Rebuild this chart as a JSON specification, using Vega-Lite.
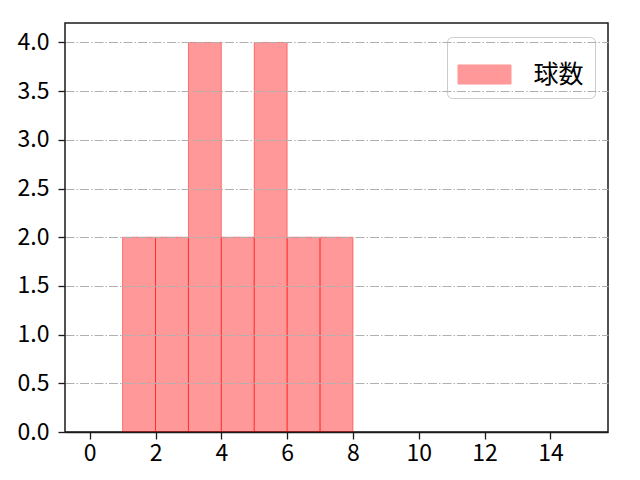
{
  "$schema": "https://vega.github.io/schema/vega-lite/v6.json",
  "autosize": {"type": "none"},
  "padding": {"left": 65, "top": 23, "right": 32, "bottom": 48},
  "width": 543,
  "height": 409,
  "background": "white",
  "data": {
    "values": [
      {"bin_start": 1, "bin_end": 2, "count": 2, "series": "球数"},
      {"bin_start": 2, "bin_end": 3, "count": 2, "series": "球数"},
      {"bin_start": 3, "bin_end": 4, "count": 4, "series": "球数"},
      {"bin_start": 4, "bin_end": 5, "count": 2, "series": "球数"},
      {"bin_start": 5, "bin_end": 6, "count": 4, "series": "球数"},
      {"bin_start": 6, "bin_end": 7, "count": 2, "series": "球数"},
      {"bin_start": 7, "bin_end": 8, "count": 2, "series": "球数"}
    ]
  },
  "mark": {
    "type": "rect",
    "fillOpacity": 0.4,
    "stroke": "red",
    "strokeOpacity": 0.45,
    "strokeWidth": 1
  },
  "encoding": {
    "x": {
      "field": "bin_start",
      "type": "quantitative",
      "scale": {"domain": [-0.75, 15.75], "nice": false, "zero": false},
      "axis": {
        "title": null,
        "values": [0, 2, 4, 6, 8, 10, 12, 14],
        "grid": false,
        "format": "d",
        "labelPadding": 3
      }
    },
    "x2": {"field": "bin_end"},
    "y": {
      "field": "count",
      "type": "quantitative",
      "scale": {"domain": [0, 4.2], "nice": false},
      "axis": {
        "title": null,
        "values": [0, 0.5, 1, 1.5, 2, 2.5, 3, 3.5, 4],
        "format": ".1f",
        "grid": true,
        "gridColor": {"condition": {"test": "datum.value === 0", "value": "#1a1a1a"}, "value": "#b0b0b0"},
        "gridDash": {"condition": {"test": "datum.value === 0", "value": []}, "value": [9, 2, 1.5, 2]},
        "gridWidth": {"condition": {"test": "datum.value === 0", "value": 1.5}, "value": 1},
        "zindex": 1,
        "labelPadding": 9
      }
    },
    "y2": {"datum": 0},
    "fill": {
      "field": "series",
      "type": "nominal",
      "scale": {"domain": ["球数"], "range": ["red"]},
      "legend": {
        "title": null,
        "orient": "none",
        "legendX": 382,
        "legendY": 14,
        "symbolType": "M-1,-0.36L1,-0.36L1,0.36L-1,0.36Z",
        "symbolSize": 2809,
        "symbolOpacity": 0.4,
        "symbolStrokeColor": "red",
        "symbolStrokeWidth": 1,
        "labelFontSize": 25,
        "labelFont": "Noto Sans CJK JP",
        "labelColor": "black",
        "labelOffset": 22,
        "strokeColor": "#cccccc",
        "fillColor": "white",
        "cornerRadius": 5,
        "padding": 10.5
      }
    }
  },
  "config": {
    "view": {"stroke": "#1a1a1a", "strokeWidth": 1.5},
    "axis": {
      "labelFont": "Noto Sans CJK JP",
      "labelFontSize": 23,
      "labelColor": "black",
      "domain": false,
      "tickColor": "#1a1a1a",
      "tickSize": 7,
      "tickWidth": 1.3
    }
  }
}
